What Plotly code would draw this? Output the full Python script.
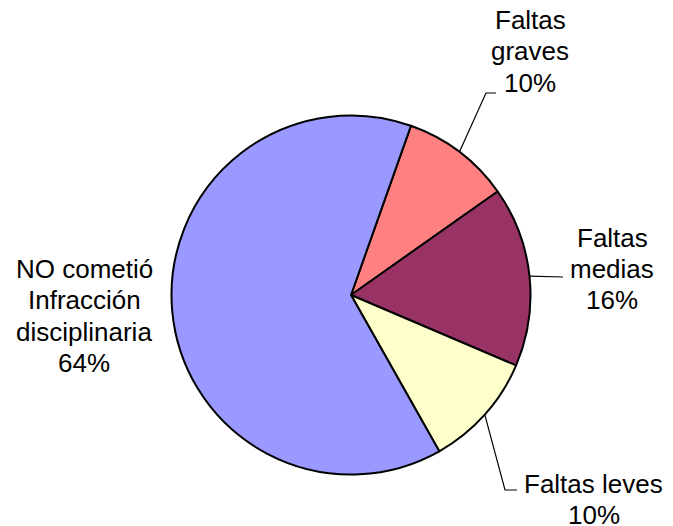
import math
import plotly.graph_objects as go

# ---- data ----
categories = ["Faltas graves", "Faltas medias", "Faltas leves",
              "NO cometió Infracción disciplinaria"]
values = [9.8, 16.2, 10.4, 63.6]
label_lines = [["Faltas", "graves"], ["Faltas", "medias"], ["Faltas leves"],
               ["NO cometió", "Infracción", "disciplinaria"]]
colors = ["#FF8080", "#993366", "#FFFFCC", "#9999FF"]

# ---- layout geometry (screen pixels; page body has an 8px margin) ----
OFF = 8
W, H = 673 - OFF, 526 - OFF
CX, CY, R = 351, 295, 179.5
ROT = 19.5
label_first = [(530, 20), (612, 237.5), (593.5, 484), (84, 269)]
LINE_STEP = 31.3
leader_elbow = [(486, 93), None, (505, 490), None]
leader_end = [(496, 93), (563, 277), (517, 490), None]
FONT = dict(family="Liberation Sans, Arial, sans-serif", size=26, color="black")


def px(x):
    return (x - OFF) / W


def py(y):
    return 1 - (y - OFF) / H


fig = go.Figure()
fig.add_trace(go.Pie(
    labels=categories, values=values, sort=False, direction="clockwise",
    rotation=ROT, textinfo="none", hoverinfo="label+percent",
    marker=dict(colors=colors, line=dict(color="black", width=2)),
    domain=dict(x=[px(CX - R), px(CX + R)], y=[py(CY + R), py(CY - R)]),
    showlegend=False,
))

total = sum(values)
annotations = []
shapes = []
start = ROT
for i, v in enumerate(values):
    span = v / total * 360
    mid = math.radians(start + span / 2)
    start += span
    pct = int(v / total * 100 + 0.5)
    lines = label_lines[i] + [f"{pct}%"]
    lx, ly = label_first[i]
    for k, line in enumerate(lines):
        annotations.append(dict(x=px(lx), y=py(ly + k * LINE_STEP),
                                xref="paper", yref="paper",
                                text=line, showarrow=False, font=FONT,
                                xanchor="center", yanchor="middle",
                                align="center"))
    if leader_end[i] is not None:
        sx = CX + R * math.sin(mid)
        sy = CY - R * math.cos(mid)
        pts = [(sx, sy)]
        if leader_elbow[i] is not None:
            pts.append(leader_elbow[i])
        pts.append(leader_end[i])
        path = "M " + " L ".join(f"{px(a)},{py(b)}" for a, b in pts)
        shapes.append(dict(type="path", path=path, xref="paper", yref="paper",
                           line=dict(color="black", width=1.2)))

fig.update_layout(width=W, height=H, margin=dict(l=0, r=0, t=0, b=0),
                  paper_bgcolor="white", plot_bgcolor="white",
                  annotations=annotations, shapes=shapes)
fig.write_html("out.html")
